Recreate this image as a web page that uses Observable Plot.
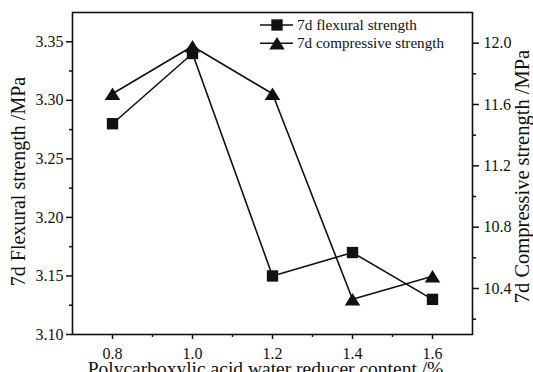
<!DOCTYPE html>
<html><head><meta charset="utf-8">
<script src="https://cdn.jsdelivr.net/npm/d3@7"></script>
<script src="https://cdn.jsdelivr.net/npm/@observablehq/plot@0.6"></script>
<style>
html,body{margin:0;padding:0;background:#fff;}
#chart{position:relative;width:533px;height:372px;overflow:hidden;}
</style></head><body><div id="chart"></div>
<script>
const content = [0.8, 1.0, 1.2, 1.4, 1.6];
const flexural = [3.28, 3.34, 3.15, 3.17, 3.13];
const compressive = [11.67, 11.98, 11.67, 10.33, 10.48];
const xTicks = [0.8, 1.0, 1.2, 1.4, 1.6];
const xMinor = [0.9, 1.1, 1.3, 1.5];
const leftTicks = [3.10, 3.15, 3.20, 3.25, 3.30, 3.35];
const leftMinor = [3.125, 3.175, 3.225, 3.275, 3.325];
const rightTicks = [10.4, 10.8, 11.2, 11.6, 12.0];
const rightMinor = [10.2, 10.6, 11.0, 11.4, 11.8];
const seriesNames = ["7d flexural strength", "7d compressive strength"];
const xTitle = "Polycarboxylic acid water reducer content /%";
const leftTitle = "7d Flexural strength /MPa";
const rightTitle = "7d Compressive strength /MPa";

const leftDomain = [3.10, 3.375];
const rightDomain = [10.1, 12.2];
const toLeft = d3.scaleLinear().domain(rightDomain).range(leftDomain);

const flexData = content.map((x, i) => ({x, y: flexural[i]}));
const compData = content.map((x, i) => ({x, y: toLeft(compressive[i]), v: compressive[i]}));

const FONT = "'Liberation Serif', 'Times New Roman', serif";
const ink = "#111";

// wide triangle centred on its bounding box (as in the original figure)
const wideTriangle = {
  draw(ctx, size) {
    const w = Math.sqrt(size * 4 / Math.sqrt(3));
    const h = w * 0.8;
    ctx.moveTo(0, -h / 2);
    ctx.lineTo(w / 2, h / 2);
    ctx.lineTo(-w / 2, h / 2);
    ctx.closePath();
  }
};

const plot = Plot.plot({
  width: 533,
  height: 372,
  marginLeft: 72,
  marginRight: 61,
  marginTop: 12,
  marginBottom: 38,
  style: {fontFamily: FONT, fontSize: "16px", background: "#fff", color: ink},
  x: {domain: [0.7, 1.7]},
  y: {domain: leftDomain},
  marks: [
    Plot.frame({stroke: ink, strokeWidth: 1.6}),
    Plot.axisX(xTicks, {tickSize: 5, tickPadding: 8, tickFormat: d3.format(".1f"), label: null, strokeWidth: 1.5}),
    Plot.axisX(xMinor, {tickSize: 3, tickFormat: () => "", label: null, strokeWidth: 1.5}),
    Plot.axisY(leftTicks, {anchor: "left", tickSize: 6, tickPadding: 3, tickFormat: d3.format(".2f"), label: null, strokeWidth: 1.5}),
    Plot.axisY(leftMinor, {anchor: "left", tickSize: 3, tickFormat: () => "", label: null, strokeWidth: 1.5}),
    Plot.axisY(rightTicks.map(toLeft), {anchor: "right", tickSize: 6, tickPadding: 5, tickFormat: d => d3.format(".1f")(toLeft.invert(d)), label: null, strokeWidth: 1.5}),
    Plot.axisY(rightMinor.map(toLeft), {anchor: "right", tickSize: 3, tickFormat: () => "", label: null, strokeWidth: 1.5}),
    Plot.line(flexData, {x: "x", y: "y", stroke: ink, strokeWidth: 1.6}),
    Plot.line(compData, {x: "x", y: "y", stroke: ink, strokeWidth: 1.6}),
    Plot.dot(flexData, {x: "x", y: "y", symbol: "square", fill: ink, stroke: null, r: 6.4}),
    Plot.dot(compData, {x: "x", y: "y", symbol: wideTriangle, fill: ink, stroke: null, r: 5.75}),
    Plot.text([xTitle], {text: d => d, frameAnchor: "bottom", textAnchor: "middle", dx: -7, dy: 40, lineAnchor: "bottom", fontSize: 19.5, fill: ink}),
    Plot.text([leftTitle], {text: d => d, frameAnchor: "left", textAnchor: "middle", lineAnchor: "middle", rotate: -90, dx: -54, dy: 8, fontSize: 20, fill: ink}),
    Plot.text([rightTitle], {text: d => d, frameAnchor: "right", textAnchor: "middle", lineAnchor: "middle", rotate: -90, dx: 50, dy: 3, fontSize: 20.5, fill: ink})
  ]
});

document.getElementById("chart").appendChild(plot);

// legend inside the plot area (top right)
const svg = d3.select(plot);
const lg = svg.append("g").attr("class", "legend").attr("font-family", FONT).attr("font-size", 15).attr("fill", ink).attr("text-anchor", "start");
const symbols = [d3.symbolSquare, wideTriangle];
const sizes = [Math.PI * 6.4 * 6.4, Math.PI * 5.75 * 5.75];
const textLengths = [120, 147];
seriesNames.forEach((name, i) => {
  const yy = 25 + i * 18.3;
  const g = lg.append("g").attr("transform", `translate(0,${yy})`);
  g.append("line").attr("x1", 260).attr("x2", 293).attr("y1", 0).attr("y2", 0).attr("stroke", ink).attr("stroke-width", 1.6);
  g.append("path").attr("d", d3.symbol(symbols[i], sizes[i])()).attr("transform", "translate(277,0)").attr("fill", ink);
  g.append("text").attr("x", 297).attr("y", 0).attr("dy", "0.32em")
    .attr("textLength", textLengths[i]).attr("lengthAdjust", "spacingAndGlyphs").text(name);
});
</script></body></html>
